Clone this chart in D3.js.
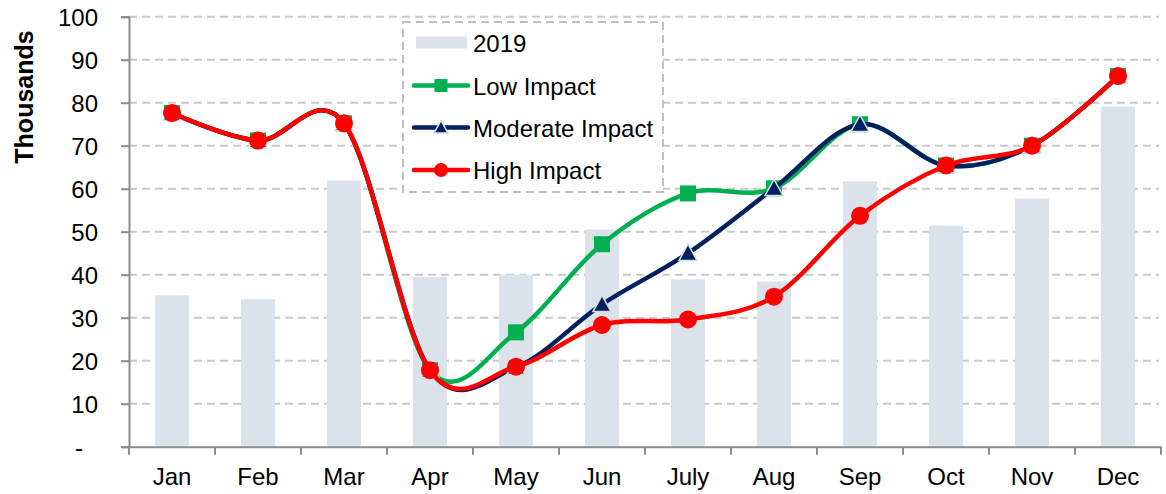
<!DOCTYPE html>
<html>
<head>
<meta charset="utf-8">
<script src="https://cdn.jsdelivr.net/npm/d3@7"></script>
<style>
  html, body { margin: 0; padding: 0; background: #fff; }
  svg { display: block; font-family: "Liberation Sans", Arial, sans-serif; }
</style>
</head>
<body>
<svg id="chart" width="1166" height="494"></svg>
<script>
const months = ["Jan", "Feb", "Mar", "Apr", "May", "Jun", "July", "Aug", "Sep", "Oct", "Nov", "Dec"];
const values2019 = [35.2, 34.3, 61.9, 39.5, 40.0, 50.5, 38.9, 38.4, 61.7, 51.4, 57.7, 79.1];
const lowImpact = [77.6, 71.2, 75.2, 17.8, 26.6, 47.1, 58.9, 60.1, 75.0, 65.4, 70.0, 86.2];
const moderateImpact = [77.6, 71.2, 75.2, 17.8, 18.5, 33.1, 45.0, 60.1, 75.0, 65.4, 70.0, 86.2];
const highImpact = [77.6, 71.2, 75.2, 17.8, 18.6, 28.3, 29.6, 34.9, 53.7, 65.4, 70.0, 86.2];
const yTicks = [0, 10, 20, 30, 40, 50, 60, 70, 80, 90, 100];
const yTickLabels = ["-", "10", "20", "30", "40", "50", "60", "70", "80", "90", "100"];
const seriesNames = ["2019", "Low Impact", "Moderate Impact", "High Impact"];

const svg = d3.select("#chart");
const pLeft = 129, pRight = 1161, pTop = 16.7, pBottom = 446.7;

const x = d3.scaleBand().domain(months).range([pLeft, pRight]).paddingInner(0).paddingOuter(0);
const y = d3.scaleLinear().domain([0, 100]).range([pBottom, pTop]);

// gridlines
svg.append("g").selectAll("line").data(yTicks.filter(d => d > 0)).join("line")
  .attr("x1", pLeft).attr("x2", pRight - 2)
  .attr("y1", d => y(d)).attr("y2", d => y(d))
  .attr("stroke", "#c9c9c9").attr("stroke-width", 2).attr("stroke-dasharray", "8,5");

// bars
const barW = 34;
svg.append("g").selectAll("rect").data(values2019).join("rect")
  .attr("x", (d, i) => x(months[i]) + x.bandwidth() / 2 - barW / 2)
  .attr("width", barW)
  .attr("y", d => y(d))
  .attr("height", d => y(0) - y(d))
  .attr("fill", "#dbe2e9");

// y axis
const yAxis = d3.axisLeft(y).tickValues(yTicks).tickSize(8).tickPadding(23)
  .tickFormat((d, i) => yTickLabels[i]);
const gy = svg.append("g").attr("transform", `translate(${pLeft},0)`).call(yAxis);
gy.select(".domain").attr("stroke", "#8c8c8c").attr("stroke-width", 2);
gy.selectAll(".tick line").attr("stroke", "#8c8c8c").attr("stroke-width", 2);
gy.selectAll(".tick text").attr("font-size", 24).attr("fill", "#000")
  .attr("font-family", "Liberation Sans, Arial, sans-serif").attr("dy", "0.36em")
  .attr("dx", d => d === 0 ? -15 : 0);

// x axis
const xAxis = d3.axisBottom(x).tickSize(0).tickPadding(21);
const gx = svg.append("g").attr("transform", `translate(0,${pBottom})`).call(xAxis);
gx.select(".domain").attr("stroke", "#8c8c8c").attr("stroke-width", 2);
gx.selectAll(".tick text").attr("font-size", 24).attr("fill", "#000")
  .attr("font-family", "Liberation Sans, Arial, sans-serif");
// category boundary ticks
gx.append("g").selectAll("line").data(months.concat(["end"])).join("line")
  .attr("x1", (d, i) => i < months.length ? x(d) : pRight)
  .attr("x2", (d, i) => i < months.length ? x(d) : pRight)
  .attr("y1", 0).attr("y2", 8)
  .attr("stroke", "#8c8c8c").attr("stroke-width", 2);

// y title
svg.append("text")
  .attr("transform", "translate(33,97) rotate(-90)")
  .attr("text-anchor", "middle")
  .attr("font-size", 25).attr("font-weight", "bold").attr("fill", "#000")
  .text("Thousands");

// lines
const curve = d3.curveCardinal.tension(0);
const line = d3.line().x((d, i) => x(months[i]) + x.bandwidth() / 2).y(d => y(d)).curve(curve);
const cx = i => x(months[i]) + x.bandwidth() / 2;

function drawSeries(data, color, marker) {
  const g = svg.append("g");
  g.append("path").datum(data).attr("d", line)
    .attr("fill", "none").attr("stroke", color).attr("stroke-width", 4.5)
    .attr("stroke-linejoin", "round").attr("stroke-linecap", "round");
  const m = g.append("g");
  data.forEach((d, i) => {
    if (marker === "square") {
      m.append("rect").attr("x", cx(i) - 8).attr("y", y(d) - 8).attr("width", 16).attr("height", 16)
        .attr("fill", color);
    } else if (marker === "triangle") {
      const s = 9;
      m.append("path").attr("d", `M${cx(i)},${y(d) - s}L${cx(i) + s},${y(d) + s * 0.8}L${cx(i) - s},${y(d) + s * 0.8}Z`)
        .attr("fill", color).attr("stroke", "#d8dee6").attr("stroke-width", 1.5);
    } else {
      m.append("circle").attr("cx", cx(i)).attr("cy", y(d)).attr("r", 9).attr("fill", color);
    }
  });
}
drawSeries(lowImpact, "#00b050", "square");
drawSeries(moderateImpact, "#002060", "triangle");
drawSeries(highImpact, "#ff0000", "circle");

// legend
const lg = svg.append("g");
lg.append("rect").attr("x", 403).attr("y", 22).attr("width", 260).attr("height", 170)
  .attr("fill", "#fff").attr("stroke", "#c0c0c0").attr("stroke-width", 2).attr("stroke-dasharray", "8,5");
const legY = [42.5, 85.5, 127.5, 170];
const legColors = ["#dbe2e9", "#00b050", "#002060", "#ff0000"];
seriesNames.forEach((name, i) => {
  const yy = legY[i];
  if (i === 0) {
    lg.append("rect").attr("x", 416).attr("y", yy - 6).attr("width", 51).attr("height", 12).attr("fill", legColors[0]);
  } else {
    lg.append("line").attr("x1", 414).attr("x2", 468).attr("y1", yy).attr("y2", yy)
      .attr("stroke", legColors[i]).attr("stroke-width", 4.5).attr("stroke-linecap", "round");
    if (i === 1) {
      lg.append("rect").attr("x", 441 - 6.5).attr("y", yy - 6.5).attr("width", 13).attr("height", 13).attr("fill", legColors[i]);
    } else if (i === 2) {
      const s = 7;
      lg.append("path").attr("d", `M441,${yy - s}L${441 + s},${yy + s * 0.8}L${441 - s},${yy + s * 0.8}Z`)
        .attr("fill", legColors[i]).attr("stroke", "#d8dee6").attr("stroke-width", 1.5);
    } else {
      lg.append("circle").attr("cx", 441).attr("cy", yy).attr("r", 7).attr("fill", legColors[i]);
    }
  }
  lg.append("text").attr("x", 473).attr("y", yy + 9).attr("font-size", 24).attr("fill", "#000").text(name);
});
</script>
</body>
</html>
